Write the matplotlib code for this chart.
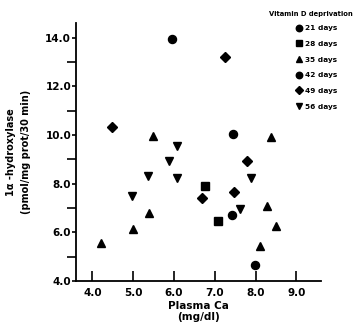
import matplotlib
matplotlib.use("Agg")
import matplotlib.pyplot as plt
from matplotlib.ticker import MultipleLocator, FormatStrFormatter

# Plasma Ca (mg/dl) vs 1a-hydroxylase (pmol/mg prot/30 min), per deprivation group
d21_ca = [7.44, 7.99]
d21_hyd = [10.02, 4.66]
d28_ca = [6.76, 7.08]
d28_hyd = [7.91, 6.45]
d35_ca = [5.49, 8.38, 5.39, 5.00, 4.20, 8.28, 8.49, 8.10]
d35_hyd = [9.94, 9.93, 6.79, 6.13, 5.55, 7.09, 6.27, 5.45]
d42_ca = [5.95, 7.42]
d42_hyd = [13.96, 6.70]
d49_ca = [4.49, 7.24, 7.78, 6.69, 7.47]
d49_hyd = [10.31, 13.22, 8.92, 7.40, 7.64]
d56_ca = [6.07, 5.88, 5.37, 6.07, 4.98, 7.89, 7.61]
d56_hyd = [9.53, 8.92, 8.30, 8.22, 7.49, 8.25, 6.95]

x_ticks = [4.0, 5.0, 6.0, 7.0, 8.0, 9.0]
y_ticks = [4.0, 6.0, 8.0, 10.0, 12.0, 14.0]

groups = [
    ("21 days", d21_ca, d21_hyd, "o", 5.8),
    ("28 days", d28_ca, d28_hyd, "s", 5.3),
    ("35 days", d35_ca, d35_hyd, "^", 5.9),
    ("42 days", d42_ca, d42_hyd, "o", 5.8),
    ("49 days", d49_ca, d49_hyd, "D", 5.0),
    ("56 days", d56_ca, d56_hyd, "v", 5.9),
]

plt.rcParams["font.family"] = ["DejaVu Sans"]
plt.rcParams["font.weight"] = "bold"

fig = plt.figure(figsize=(3.55, 3.30), dpi=100)
ax = fig.add_axes([76 / 355, 1 - 281 / 330, 245 / 355, 258 / 330])

handles = []
for label, xs, ys, mk, ms in groups:
    h, = ax.plot(xs, ys, linestyle="none", marker=mk, markersize=ms,
                 color="black", label=label)
    handles.append(h)

ax.set_xlim(3.6, 9.6)
ax.set_ylim(4.0, 14.6)
ax.spines["top"].set_visible(False)
ax.spines["right"].set_visible(False)
for s in ("left", "bottom"):
    ax.spines[s].set_linewidth(1.3)

ax.set_xticks(x_ticks)
ax.set_yticks(y_ticks)
ax.xaxis.set_major_formatter(FormatStrFormatter("%.1f"))
ax.yaxis.set_major_formatter(FormatStrFormatter("%.1f"))
ax.yaxis.set_minor_locator(MultipleLocator(1.0))
ax.tick_params(axis="x", direction="in", length=7, width=1.2, pad=5,
               labelsize=7.5)
ax.tick_params(axis="y", which="major", direction="out", length=3, width=1.2,
               pad=0.5, labelsize=7.5)
ax.tick_params(axis="y", which="minor", direction="out", length=6.5, width=1.2)
for t in ax.get_xticklabels() + ax.get_yticklabels():
    t.set_fontweight("bold")

ax.set_xlabel("Plasma Ca\n(mg/dl)", fontsize=7.5, fontweight="bold",
              labelpad=2, linespacing=1.1)
ax.set_ylabel("1\u03b1 -hydroxylase\n(pmol/mg prot/30 min)", fontsize=7,
              fontweight="bold", labelpad=10, linespacing=1.7)

fig.text(353 / 355, 1 - 14 / 330, "Vitamin D deprivation", fontsize=4.9,
         fontweight="bold", ha="right", va="center")
fig.legend(handles=handles, loc="upper left",
           bbox_to_anchor=(296 / 355, 1 - 25 / 330), frameon=False,
           prop={"size": 5.3, "weight": "bold"}, handlelength=0.9,
           handletextpad=0.35, labelspacing=1.3, borderpad=0,
           borderaxespad=0, markerscale=0.8)

fig.savefig("out.png", dpi=100)
